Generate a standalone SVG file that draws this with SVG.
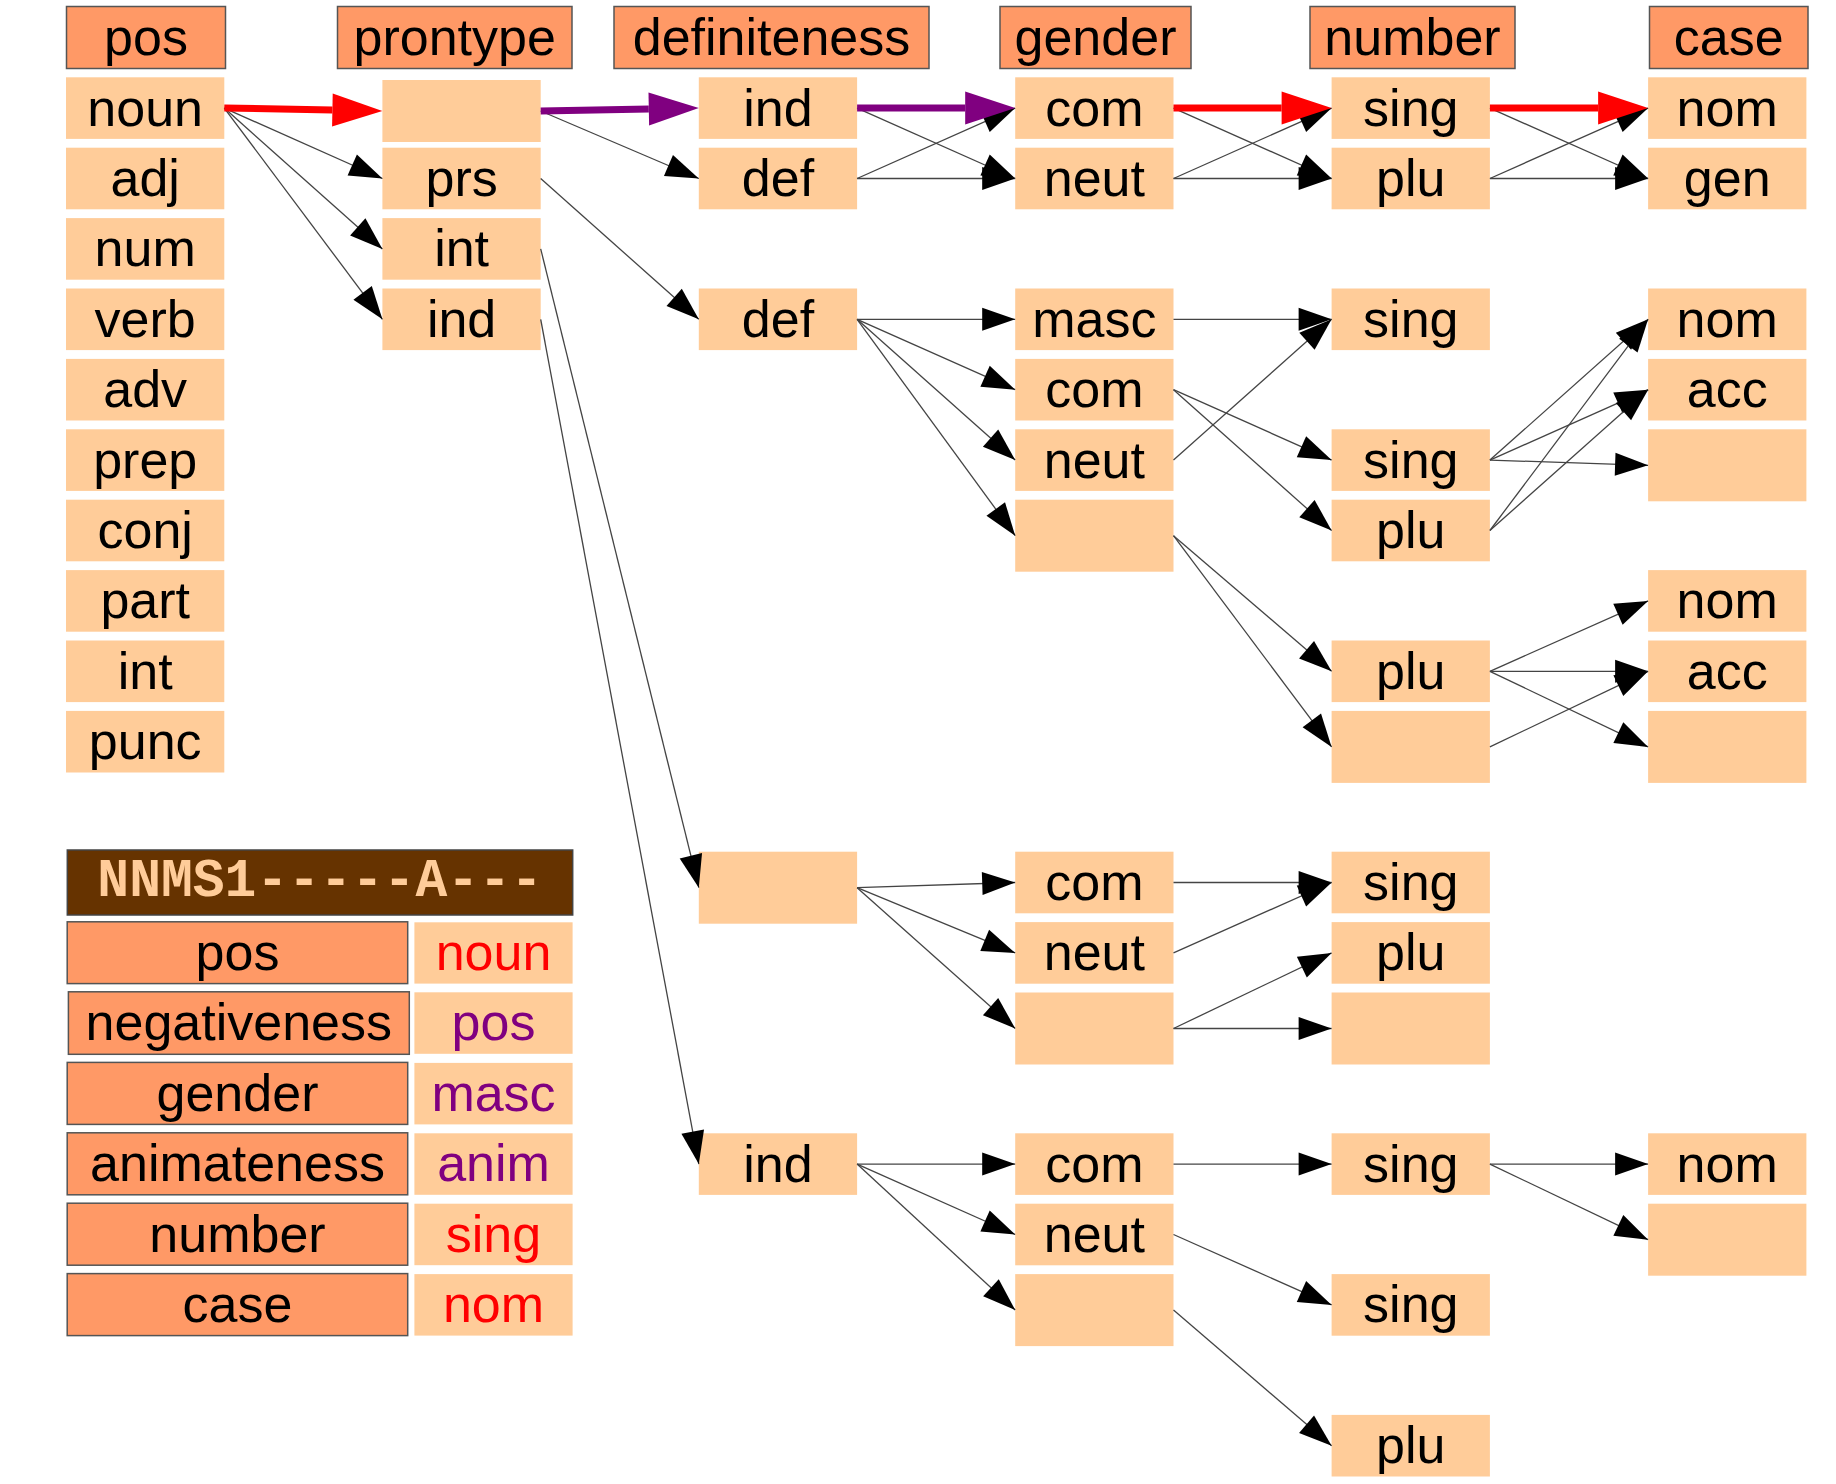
<svg xmlns="http://www.w3.org/2000/svg" width="1836" height="1484" viewBox="0 0 1836 1484">
<style>
.v{fill:#FFCC99}
.h{fill:#FF9966;stroke:#555;stroke-width:1.5}
.t{font-family:"Liberation Sans",Arial,sans-serif;font-size:52px;fill:#000;text-anchor:middle}
.red{fill:#FF0000}
.pur{fill:#800080}
.code{font-family:"Liberation Mono","Courier New",monospace;font-size:53px;font-weight:bold;fill:#FFCC99;text-anchor:middle}
.e{fill:none;stroke:#444;stroke-width:1.3;marker-end:url(#ab)}
.er{fill:none;stroke:#FF0000;stroke-width:7;marker-end:url(#ar)}
.ep{fill:none;stroke:#800080;stroke-width:7;marker-end:url(#ap)}
</style>
<defs>
<marker id="ab" markerUnits="userSpaceOnUse" markerWidth="33" markerHeight="23" refX="33" refY="11.5" orient="auto" overflow="visible"><path d="M0,0 L33,11.5 L0,23 z" fill="#000"/></marker>
<marker id="ar" markerUnits="userSpaceOnUse" markerWidth="50" markerHeight="34" refX="0" refY="16.5" orient="auto" overflow="visible"><path d="M0,0 L50,16.5 L0,33 z" fill="#FF0000"/></marker>
<marker id="ap" markerUnits="userSpaceOnUse" markerWidth="50" markerHeight="34" refX="0" refY="16.5" orient="auto" overflow="visible"><path d="M0,0 L50,16.5 L0,33 z" fill="#800080"/></marker>
</defs>
<rect width="1836" height="1484" fill="#fff"/>

<g id="headers">
<g id="h-pos"><rect class="h" x="66.5" y="6.5" width="159" height="62"/><text class="t" x="146" y="55">pos</text></g>
<g id="h-prontype"><rect class="h" x="337.5" y="6.5" width="234.5" height="62"/><text class="t" x="454.7" y="55">prontype</text></g>
<g id="h-definiteness"><rect class="h" x="614" y="6.5" width="315" height="62"/><text class="t" x="771.5" y="55">definiteness</text></g>
<g id="h-gender"><rect class="h" x="1000" y="6.5" width="191" height="62"/><text class="t" x="1095.5" y="55">gender</text></g>
<g id="h-number"><rect class="h" x="1310" y="6.5" width="205" height="62"/><text class="t" x="1412.5" y="55">number</text></g>
<g id="h-case"><rect class="h" x="1649.5" y="6.5" width="158.5" height="62"/><text class="t" x="1728.7" y="55">case</text></g>
</g>

<g id="col-pos">
<g id="pos-noun"><rect class="v" x="66" y="77.3" width="158.3" height="61.6"/><text class="t" x="145.2" y="125.6">noun</text></g>
<g id="pos-adj"><rect class="v" x="66" y="147.7" width="158.3" height="61.6"/><text class="t" x="145.2" y="196">adj</text></g>
<g id="pos-num"><rect class="v" x="66" y="218.1" width="158.3" height="61.6"/><text class="t" x="145.2" y="266.4">num</text></g>
<g id="pos-verb"><rect class="v" x="66" y="288.5" width="158.3" height="61.6"/><text class="t" x="145.2" y="336.8">verb</text></g>
<g id="pos-adv"><rect class="v" x="66" y="358.9" width="158.3" height="61.6"/><text class="t" x="145.2" y="407.2">adv</text></g>
<g id="pos-prep"><rect class="v" x="66" y="429.3" width="158.3" height="61.6"/><text class="t" x="145.2" y="477.6">prep</text></g>
<g id="pos-conj"><rect class="v" x="66" y="499.7" width="158.3" height="61.6"/><text class="t" x="145.2" y="548">conj</text></g>
<g id="pos-part"><rect class="v" x="66" y="570.1" width="158.3" height="61.6"/><text class="t" x="145.2" y="618.4">part</text></g>
<g id="pos-int"><rect class="v" x="66" y="640.5" width="158.3" height="61.6"/><text class="t" x="145.2" y="688.8">int</text></g>
<g id="pos-punc"><rect class="v" x="66" y="710.9" width="158.3" height="61.6"/><text class="t" x="145.2" y="759.2">punc</text></g>
</g>

<g id="col-prontype">
<g id="pt-blank"><rect class="v" x="382.4" y="80" width="158.3" height="62"/></g>
<g id="pt-prs"><rect class="v" x="382.4" y="147.7" width="158.3" height="61.6"/><text class="t" x="461.6" y="196">prs</text></g>
<g id="pt-int"><rect class="v" x="382.4" y="218.1" width="158.3" height="61.6"/><text class="t" x="461.6" y="266.4">int</text></g>
<g id="pt-ind"><rect class="v" x="382.4" y="288.5" width="158.3" height="61.6"/><text class="t" x="461.6" y="336.8">ind</text></g>
</g>

<g id="col-definiteness">
<g id="d-ind0"><rect class="v" x="698.8" y="77.3" width="158.3" height="61.6"/><text class="t" x="778" y="125.6">ind</text></g>
<g id="d-def1"><rect class="v" x="698.8" y="147.7" width="158.3" height="61.6"/><text class="t" x="778" y="196">def</text></g>
<g id="d-def3"><rect class="v" x="698.8" y="288.5" width="158.3" height="61.6"/><text class="t" x="778" y="336.8">def</text></g>
<g id="d-blank11"><rect class="v" x="698.8" y="851.7" width="158.3" height="72"/></g>
<g id="d-ind15"><rect class="v" x="698.8" y="1133.3" width="158.3" height="61.6"/><text class="t" x="778" y="1181.6">ind</text></g>
</g>

<g id="col-gender">
<g id="g-com0"><rect class="v" x="1015.2" y="77.3" width="158.3" height="61.6"/><text class="t" x="1094.4" y="125.6">com</text></g>
<g id="g-neut1"><rect class="v" x="1015.2" y="147.7" width="158.3" height="61.6"/><text class="t" x="1094.4" y="196">neut</text></g>
<g id="g-masc3"><rect class="v" x="1015.2" y="288.5" width="158.3" height="61.6"/><text class="t" x="1094.4" y="336.8">masc</text></g>
<g id="g-com4"><rect class="v" x="1015.2" y="358.9" width="158.3" height="61.6"/><text class="t" x="1094.4" y="407.2">com</text></g>
<g id="g-neut5"><rect class="v" x="1015.2" y="429.3" width="158.3" height="61.6"/><text class="t" x="1094.4" y="477.6">neut</text></g>
<g id="g-blank6"><rect class="v" x="1015.2" y="499.7" width="158.3" height="72"/></g>
<g id="g-com11"><rect class="v" x="1015.2" y="851.7" width="158.3" height="61.6"/><text class="t" x="1094.4" y="900">com</text></g>
<g id="g-neut12"><rect class="v" x="1015.2" y="922.1" width="158.3" height="61.6"/><text class="t" x="1094.4" y="970.4">neut</text></g>
<g id="g-blank13"><rect class="v" x="1015.2" y="992.5" width="158.3" height="72"/></g>
<g id="g-com15"><rect class="v" x="1015.2" y="1133.3" width="158.3" height="61.6"/><text class="t" x="1094.4" y="1181.6">com</text></g>
<g id="g-neut16"><rect class="v" x="1015.2" y="1203.7" width="158.3" height="61.6"/><text class="t" x="1094.4" y="1252">neut</text></g>
<g id="g-blank17"><rect class="v" x="1015.2" y="1274.1" width="158.3" height="72"/></g>
</g>

<g id="col-number">
<g id="n-sing0"><rect class="v" x="1331.6" y="77.3" width="158.3" height="61.6"/><text class="t" x="1410.8" y="125.6">sing</text></g>
<g id="n-plu1"><rect class="v" x="1331.6" y="147.7" width="158.3" height="61.6"/><text class="t" x="1410.8" y="196">plu</text></g>
<g id="n-sing3"><rect class="v" x="1331.6" y="288.5" width="158.3" height="61.6"/><text class="t" x="1410.8" y="336.8">sing</text></g>
<g id="n-sing5"><rect class="v" x="1331.6" y="429.3" width="158.3" height="61.6"/><text class="t" x="1410.8" y="477.6">sing</text></g>
<g id="n-plu6"><rect class="v" x="1331.6" y="499.7" width="158.3" height="61.6"/><text class="t" x="1410.8" y="548">plu</text></g>
<g id="n-plu8"><rect class="v" x="1331.6" y="640.5" width="158.3" height="61.6"/><text class="t" x="1410.8" y="688.8">plu</text></g>
<g id="n-blank9"><rect class="v" x="1331.6" y="710.9" width="158.3" height="72"/></g>
<g id="n-sing11"><rect class="v" x="1331.6" y="851.7" width="158.3" height="61.6"/><text class="t" x="1410.8" y="900">sing</text></g>
<g id="n-plu12"><rect class="v" x="1331.6" y="922.1" width="158.3" height="61.6"/><text class="t" x="1410.8" y="970.4">plu</text></g>
<g id="n-blank13"><rect class="v" x="1331.6" y="992.5" width="158.3" height="72"/></g>
<g id="n-sing15"><rect class="v" x="1331.6" y="1133.3" width="158.3" height="61.6"/><text class="t" x="1410.8" y="1181.6">sing</text></g>
<g id="n-sing17"><rect class="v" x="1331.6" y="1274.1" width="158.3" height="61.6"/><text class="t" x="1410.8" y="1322.4">sing</text></g>
<g id="n-plu19"><rect class="v" x="1331.6" y="1414.9" width="158.3" height="61.6"/><text class="t" x="1410.8" y="1463.2">plu</text></g>
</g>

<g id="col-case">
<g id="c-nom0"><rect class="v" x="1648.1" y="77.3" width="158.3" height="61.6"/><text class="t" x="1727.2" y="125.6">nom</text></g>
<g id="c-gen1"><rect class="v" x="1648.1" y="147.7" width="158.3" height="61.6"/><text class="t" x="1727.2" y="196">gen</text></g>
<g id="c-nom3"><rect class="v" x="1648.1" y="288.5" width="158.3" height="61.6"/><text class="t" x="1727.2" y="336.8">nom</text></g>
<g id="c-acc4"><rect class="v" x="1648.1" y="358.9" width="158.3" height="61.6"/><text class="t" x="1727.2" y="407.2">acc</text></g>
<g id="c-blank5"><rect class="v" x="1648.1" y="429.3" width="158.3" height="72"/></g>
<g id="c-nom7"><rect class="v" x="1648.1" y="570.1" width="158.3" height="61.6"/><text class="t" x="1727.2" y="618.4">nom</text></g>
<g id="c-acc8"><rect class="v" x="1648.1" y="640.5" width="158.3" height="61.6"/><text class="t" x="1727.2" y="688.8">acc</text></g>
<g id="c-blank9"><rect class="v" x="1648.1" y="710.9" width="158.3" height="72"/></g>
<g id="c-nom15"><rect class="v" x="1648.1" y="1133.3" width="158.3" height="61.6"/><text class="t" x="1727.2" y="1181.6">nom</text></g>
<g id="c-blank16"><rect class="v" x="1648.1" y="1203.7" width="158.3" height="72"/></g>
</g>

<g id="legend">
<g id="lg-code"><rect x="67.3" y="850" width="505.4" height="65" fill="#663300" stroke="#444" stroke-width="1.5"/><text class="code" x="320" y="895.7">NNMS1-----A---</text></g>
<g id="lg-pos"><rect class="h" x="67.2" y="921.8" width="340.5" height="61.8"/><text class="t" x="237.5" y="970">pos</text><rect class="v" x="414.4" y="922.3" width="158.2" height="61.3"/><text class="t red" x="493.5" y="970">noun</text></g>
<g id="lg-neg"><rect class="h" x="68.4" y="991.8" width="340.9" height="62.5"/><text class="t" x="238.8" y="1040.4">negativeness</text><rect class="v" x="414.4" y="992.3" width="158.2" height="61.5"/><text class="t pur" x="493.5" y="1040.4">pos</text></g>
<g id="lg-gender"><rect class="h" x="67.2" y="1062.4" width="340.5" height="62"/><text class="t" x="237.5" y="1110.8">gender</text><rect class="v" x="414.4" y="1062.9" width="158.2" height="61.5"/><text class="t pur" x="493.5" y="1110.8">masc</text></g>
<g id="lg-anim"><rect class="h" x="67.2" y="1132.8" width="340.5" height="62"/><text class="t" x="237.5" y="1181.2">animateness</text><rect class="v" x="414.4" y="1133.3" width="158.2" height="61.5"/><text class="t pur" x="493.5" y="1181.2">anim</text></g>
<g id="lg-number"><rect class="h" x="67.2" y="1203.2" width="340.5" height="62"/><text class="t" x="237.5" y="1251.6">number</text><rect class="v" x="414.4" y="1203.7" width="158.2" height="61.5"/><text class="t red" x="493.5" y="1251.6">sing</text></g>
<g id="lg-case"><rect class="h" x="67.2" y="1273.6" width="340.5" height="62"/><text class="t" x="237.5" y="1322">case</text><rect class="v" x="414.4" y="1274.1" width="158.2" height="61.5"/><text class="t red" x="493.5" y="1322">nom</text></g>
</g>

<g id="connectors">
<line class="e" x1="224.3" y1="108.1" x2="382.4" y2="178.5"/>
<line class="e" x1="224.3" y1="108.1" x2="382.4" y2="248.9"/>
<line class="e" x1="224.3" y1="108.1" x2="382.4" y2="319.3"/>
<line class="e" x1="540.7" y1="111" x2="698.8" y2="178.5"/>
<line class="e" x1="540.7" y1="178.5" x2="698.8" y2="319.3"/>
<line class="e" x1="540.7" y1="248.9" x2="698.8" y2="887.7"/>
<line class="e" x1="540.7" y1="319.3" x2="698.8" y2="1164.1"/>
<line class="e" x1="857.1" y1="108.1" x2="1015.2" y2="178.5"/>
<line class="e" x1="857.1" y1="178.5" x2="1015.2" y2="108.1"/>
<line class="e" x1="857.1" y1="178.5" x2="1015.2" y2="178.5"/>
<line class="e" x1="1173.5" y1="108.1" x2="1331.6" y2="178.5"/>
<line class="e" x1="1173.5" y1="178.5" x2="1331.6" y2="108.1"/>
<line class="e" x1="1173.5" y1="178.5" x2="1331.6" y2="178.5"/>
<line class="e" x1="1489.9" y1="108.1" x2="1648.1" y2="178.5"/>
<line class="e" x1="1489.9" y1="178.5" x2="1648.1" y2="108.1"/>
<line class="e" x1="1489.9" y1="178.5" x2="1648.1" y2="178.5"/>
<line class="e" x1="857.1" y1="319.3" x2="1015.2" y2="319.3"/>
<line class="e" x1="857.1" y1="319.3" x2="1015.2" y2="389.7"/>
<line class="e" x1="857.1" y1="319.3" x2="1015.2" y2="460.1"/>
<line class="e" x1="857.1" y1="319.3" x2="1015.2" y2="535.7"/>
<line class="e" x1="1173.5" y1="319.3" x2="1331.6" y2="319.3"/>
<line class="e" x1="1173.5" y1="389.7" x2="1331.6" y2="460.1"/>
<line class="e" x1="1173.5" y1="389.7" x2="1331.6" y2="530.5"/>
<line class="e" x1="1173.5" y1="460.1" x2="1331.6" y2="319.3"/>
<line class="e" x1="1173.5" y1="535.7" x2="1331.6" y2="671.3"/>
<line class="e" x1="1173.5" y1="535.7" x2="1331.6" y2="746.9"/>
<line class="e" x1="1489.9" y1="460.1" x2="1648.1" y2="319.3"/>
<line class="e" x1="1489.9" y1="460.1" x2="1648.1" y2="389.7"/>
<line class="e" x1="1489.9" y1="460.1" x2="1648.1" y2="465.3"/>
<line class="e" x1="1489.9" y1="530.5" x2="1648.1" y2="319.3"/>
<line class="e" x1="1489.9" y1="530.5" x2="1648.1" y2="389.7"/>
<line class="e" x1="1489.9" y1="671.3" x2="1648.1" y2="600.9"/>
<line class="e" x1="1489.9" y1="671.3" x2="1648.1" y2="671.3"/>
<line class="e" x1="1489.9" y1="671.3" x2="1648.1" y2="746.9"/>
<line class="e" x1="1489.9" y1="746.9" x2="1648.1" y2="671.3"/>
<line class="e" x1="857.1" y1="887.7" x2="1015.2" y2="882.5"/>
<line class="e" x1="857.1" y1="887.7" x2="1015.2" y2="952.9"/>
<line class="e" x1="857.1" y1="887.7" x2="1015.2" y2="1028.5"/>
<line class="e" x1="1173.5" y1="882.5" x2="1331.6" y2="882.5"/>
<line class="e" x1="1173.5" y1="952.9" x2="1331.6" y2="882.5"/>
<line class="e" x1="1173.5" y1="1028.5" x2="1331.6" y2="952.9"/>
<line class="e" x1="1173.5" y1="1028.5" x2="1331.6" y2="1028.5"/>
<line class="e" x1="857.1" y1="1164.1" x2="1015.2" y2="1164.1"/>
<line class="e" x1="857.1" y1="1164.1" x2="1015.2" y2="1234.5"/>
<line class="e" x1="857.1" y1="1164.1" x2="1015.2" y2="1310.1"/>
<line class="e" x1="1173.5" y1="1164.1" x2="1331.6" y2="1164.1"/>
<line class="e" x1="1173.5" y1="1234.5" x2="1331.6" y2="1304.9"/>
<line class="e" x1="1173.5" y1="1310.1" x2="1331.6" y2="1445.7"/>
<line class="e" x1="1489.9" y1="1164.1" x2="1648.1" y2="1164.1"/>
<line class="e" x1="1489.9" y1="1164.1" x2="1648.1" y2="1239.7"/>
<line class="er" x1="224.3" y1="108" x2="332.4" y2="110.1"/>
<line class="ep" x1="540.7" y1="111" x2="648.8" y2="109"/>
<line class="ep" x1="857.1" y1="108.1" x2="965.2" y2="108.1"/>
<line class="er" x1="1173.5" y1="108.1" x2="1281.6" y2="108.1"/>
<line class="er" x1="1489.9" y1="108.1" x2="1598.1" y2="108.1"/>
</g>
</svg>
